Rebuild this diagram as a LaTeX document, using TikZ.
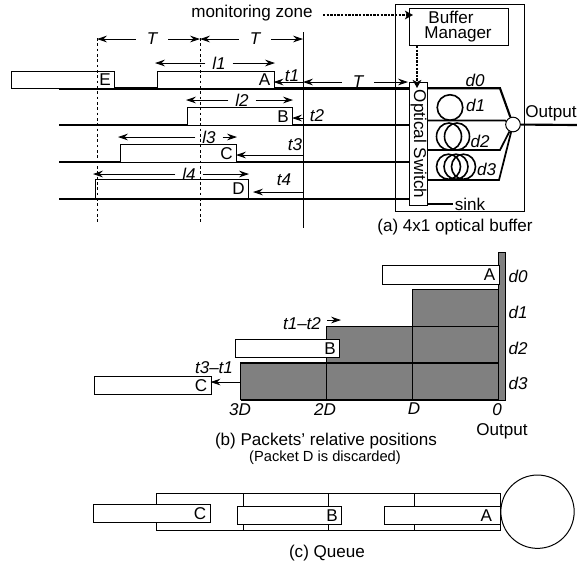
\documentclass[tikz,border=0pt]{standalone}
\usepackage{fontspec}
\setmainfont{Liberation Sans}
\usetikzlibrary{arrows.meta}
\tikzset{
  every node/.style={font=\fontsize{12.8}{14}\selectfont, inner sep=0pt},
  lbl/.style={inner sep=0pt},
  ital/.style={font=\fontsize{12.8}{14}\selectfont\itshape, inner sep=0pt},
  gaplbl/.style={font=\fontsize{12.8}{14}\selectfont\itshape, inner sep=4pt},
  pkt/.style={draw=black, fill=white, line width=0.75pt, rectangle, anchor=north west},
  arr/.style={line width=0.6pt, -{Stealth[length=7.5pt, width=5pt, inset=2.5pt]}},
  thin line/.style={line width=0.75pt},
  fibre/.style={line width=1.6pt},
  fibretwo/.style={line width=1.3pt},
  guide/.style={line width=0.7pt, dash pattern=on 2pt off 2pt},
  dotarr/.style={line width=2.2pt, dash pattern=on 1.8pt off 0.9pt, -{Stealth[length=6pt, width=6.5pt, inset=1.5pt]}},
  cell/.style={line width=0.9pt},
  coil/.style={line width=1.2pt},
}
\def\pkshift{-3pt}
\newcommand{\pk}[6]{%
  \pgfmathsetmacro{\pkw}{(#4-#2)*0.75}%
  \pgfmathsetmacro{\pkh}{(#5-#3)*0.75}%
  \node[pkt, minimum width=\pkw pt, minimum height=\pkh pt] (#1) at (#2,#3) {};
  \node[lbl, anchor=east] (#1lab) at ([xshift=\pkshift]#1.east) {#6};
}
\begin{document}
\begin{tikzpicture}[x=0.75pt,y=-0.75pt]
\useasboundingbox (0,0) rectangle (577,569);

% --- (a) guides
\coordinate (g1t) at (97,38);  \coordinate (g1b) at (97,223);
\coordinate (g2t) at (200,38); \coordinate (g2b) at (200,223);
\coordinate (g3t) at (303,32); \coordinate (g3b) at (303,228);
\draw[thin line] (g3t) -- (g3b);

% fibres on the left
\node[draw, fill=white, line width=0.75pt, minimum width=13.5pt, minimum height=92.25pt, anchor=north west] (sw) at (409,82) {};
\foreach \n/\y in {1/88.5,2/125,3/162,4/199}{
  \coordinate (in\n) at (59,\y);
  \coordinate (sw\n) at (409,\y);
  \draw[fibre] (in\n) -- (sw\n);
}
% packets
\pk{E}{10.5}{70.5}{114}{87.5}{E}
\pk{A}{157}{70.5}{273.5}{88}{A}
\pk{B}{187}{107}{292}{125}{B}
\pk{C}{119.5}{143.5}{236}{162}{C}
\pk{D}{94.5}{179}{248}{198}{D}

% guides run over the packets
\draw[guide] (g1t) -- (g1b);
\draw[guide] (g2t) -- (g2b);

% T dims
\node[gaplbl,inner sep=8pt] (T1) at (152,39) {T};
\node[gaplbl,inner sep=8pt] (T2) at (255,39) {T};
\coordinate (T1l) at (97,39); \coordinate (T1r) at (200,39);
\coordinate (T2l) at (200,39); \coordinate (T2r) at (303,39);
\draw[arr] (T1) -- (T1l); \draw[arr] (T1) -- (T1r);
\draw[arr] (T2) -- (T2l); \draw[arr] (T2) -- (T2r);

% l dims
\foreach \n/\xa/\xm/\xb/\y in {1/155/219/275/63,2/186/242/293/100,3/118/209/237/137,4/93/189/249/174}{
  \node[gaplbl,inner sep=5pt] (l\n) at (\xm,\y) {l\n};
  \coordinate (l\n a) at (\xa,\y);
  \coordinate (l\n b) at (\xb,\y);
  \draw[arr] (l\n) -- (l\n a);
  \draw[arr] (l\n) -- (l\n b);
}

% t arrows
\node[ital] (t1) at (292,76) {t1};
\node[ital] (t2) at (317,116) {t2};
\node[ital] (t3) at (295,145) {t3};
\node[ital] (t4) at (284,180) {t4};
\coordinate (t1r) at (303,82);
\coordinate (A1) at (273.5,82);
\coordinate (t2r) at (303,118);
\coordinate (B1) at (292,118);
\coordinate (t3r) at (303,155);
\coordinate (C1) at (236,155);
\coordinate (t4r) at (303,192);
\coordinate (D1) at (253,192);
\draw[arr] (t1r) -- (A1);
\draw[arr] (t2r) -- (B1);
\draw[arr] (t3r) -- (C1);
\draw[arr] (t4r) -- (D1);
\node[gaplbl,inner sep=8pt] (T3) at (358,82) {T};
\coordinate (T3l) at (303,82); \coordinate (T3r) at (408,82);
\draw[arr] (T3) -- (T3l); \draw[arr] (T3) -- (T3r);

% buffer box
\node[draw, line width=0.75pt, minimum width=96.75pt, minimum height=155.25pt, anchor=north west] (outer) at (395,4) {};
\node[draw, fill=white, line width=0.75pt, minimum width=74.25pt, minimum height=27.75pt, anchor=north west] (bm) at (409,8) {};
\node[lbl] (bm1) at (451,17.5) {Buffer};
\node[lbl] (bm2) at (458,34.5) {Manager};
\node[lbl, rotate=-90] (swl) at (418.5,144) {Optical Switch};
\node[lbl] (mz) at (252,13) {monitoring zone};
\coordinate (mzs) at (323,15);
\coordinate (mze) at (413,15);
\draw[dotarr] (mzs) -- (mze);
\coordinate (bmd) at (417,46);
\coordinate (swd) at (417,88);
\draw[dotarr] (bmd) -- (swd);

% delay lines
\node[circle, draw, fill=white, line width=0.75pt, minimum size=11pt] (o) at (513,124.5) {};
\coordinate (o0) at (428,88.3); \coordinate (o0k) at (500,88.3);
\coordinate (o1) at (428,120.5); \coordinate (o1k) at (505,120.5);
\coordinate (o2) at (428,150); \coordinate (o2k) at (500,150);
\coordinate (o3) at (428,180); \coordinate (o3k) at (499,180);
\coordinate (outp) at (577,125);
\coordinate (sinkl) at (428,204);
\draw[fibre] (o0) -- (o0k) -- (o);
\draw[fibretwo] (o1) -- (o1k) -- (o);
\draw[fibretwo] (o2) -- (o2k) -- (o);
\draw[fibretwo] (o3) -- (o3k) -- (o);
\draw[fibre] (o) -- (outp);
\node[lbl, inner sep=1.5pt] (sink) at (470,204) {sink};
\draw[fibretwo] (sinkl) -- (sink);
\draw[coil] (450,107.5) circle[radius=12.75];
\foreach \c/\y/\rx/\ry in {449/136.5/12.5/13.5,457/136.5/12.5/13.5,448.5/166.7/12/12.5,456/166.7/12/12.5,463.5/166.7/12/12.5}
  \draw[coil] (\c,\y) ellipse[x radius=\rx, y radius=\ry];
\node[ital] at (475,80) {d0};
\node[ital] at (475.5,105) {d1};
\node[ital] at (480,141) {d2};
\node[ital] at (486.5,169.5) {d3};
\node[lbl] at (551,113) {Output};
\node[lbl] at (455,227) {(a) 4x1 optical buffer};

% --- (b)
\fill[black!50] (498.5,252.5) rectangle (505,400);
\draw[line width=0.5pt] (498.5,252.5) rectangle (505,400);
\fill[black!50] (240.5,400) -- (240.5,363) -- (326.5,363) -- (326.5,326.5) -- (412.5,326.5) -- (412.5,289.5) -- (498.5,289.5) -- (498.5,400) -- cycle;
\draw[cell] (240.5,400) -- (240.5,363) -- (498.5,363);
\draw[cell] (326.5,400) -- (326.5,326.5) -- (498.5,326.5);
\draw[cell] (412.5,400) -- (412.5,289.5) -- (498.5,289.5);
\draw[cell] (240.5,400) -- (498.5,400);
\draw[cell] (498.5,252.5) -- (498.5,400);
\pk{Ab}{382}{265}{498.5}{284}{A}
\pk{Bb}{235}{338.5}{339}{357}{B}
\pk{Cb}{93.5}{376}{210.5}{394}{C}
\coordinate (cs) at (240.5,382);
\coordinate (ce) at (210.5,382);
\draw[arr] (cs) -- (ce);
\coordinate (bs) at (327,320);
\coordinate (be) at (341,320);
\draw[arr] (bs) -- (be);
\node[ital] at (302,324) {t1–t2};
\node[ital] at (214,368) {t3–t1};
\node[ital] at (240,410) {3D};
\node[ital] at (325,410) {2D};
\node[ital] at (414,409) {D};
\node[ital] at (497,410) {0};
\node[ital] at (518,276) {d0};
\node[ital] at (518,312) {d1};
\node[ital] at (518,348) {d2};
\node[ital] at (518,383) {d3};
\node[lbl] at (502,431) {Output};
\node[lbl] at (326,441) {(b) Packets' relative positions};
\node[lbl, font=\fontsize{11}{12}\selectfont] at (325,458) {(Packet D is discarded)};

% --- (c)
\node[draw, circle, line width=0.75pt, minimum size=55pt] (srv) at (537.5,511.7) {};
\draw[thin line] (156.5,493) rectangle (500,530);
\draw[thin line] (243,493) -- (243,530);
\draw[thin line] (328.5,493) -- (328.5,530);
\draw[thin line] (414.5,493) -- (414.5,530);
\pk{Cc}{93}{504}{209.5}{522}{C}
\pk{Bc}{236.5}{505.5}{341}{524}{B}
\def\pkshift{-6.5pt}
\pk{Ac}{384}{505.5}{500}{524}{A}
\node[lbl] at (327,553) {(c) Queue};
\end{tikzpicture}
\end{document}
